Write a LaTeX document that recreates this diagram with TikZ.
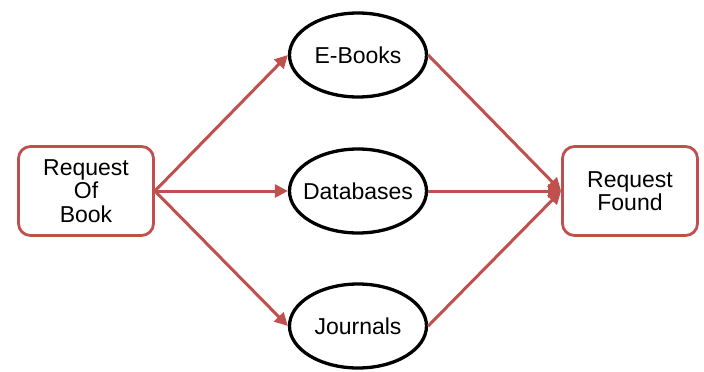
\documentclass[tikz,border=0pt]{standalone}
\usepackage{fontspec}
\setmainfont{Liberation Sans}
\usepackage{tikz}
\usetikzlibrary{shapes.geometric, arrows.meta}
\usepackage{xcolor}
\definecolor{linkred}{RGB}{192,80,77}

\begin{document}
\begin{tikzpicture}[x=1pt, y=-1pt,
    reqbox/.style={draw=linkred, line width=2.8pt, rounded corners=12pt, fill=white,
        minimum width=135pt, minimum height=89pt, align=center,
        font=\fontsize{23}{23.5}\selectfont},
    source/.style={draw=black, line width=3.3pt, ellipse, fill=white,
        minimum width=137pt, minimum height=84pt, inner xsep=-8pt,
        font=\fontsize{23}{23}\selectfont},
    link/.style={draw=linkred, line width=3pt, -{Triangle[length=13pt,width=13pt]}}]
    \useasboundingbox (0,0) rectangle (704,372);

    % Pedido e resultado
    \node[reqbox] (request) at (86,191) {Request\\Of\\Book};
    \node[reqbox] (found) at (630,191) {Request\\Found};

    % Fontes
    \node[source] (ebooks) at (358,55) {E-Books};
    \node[source] (databases) at (358,191) {Databases};
    \node[source] (journals) at (358,326) {Journals};

    % Setas de saida
    \draw[link] (request.east) -- (ebooks.west);
    \draw[link] (request.east) -- (databases.west);
    \draw[link] (request.east) -- (journals.west);

    % Setas de chegada
    \draw[link] (ebooks.east) -- (found.west);
    \draw[link] (databases.east) -- (found.west);
    \draw[link] (journals.east) -- (found.west);
\end{tikzpicture}
\end{document}
